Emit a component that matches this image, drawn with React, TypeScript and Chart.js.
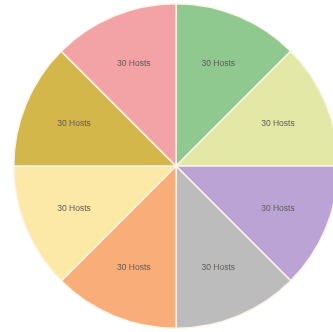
import React, { useEffect, useRef } from "react";
import { Chart, registerables } from "chart.js";

Chart.register(...registerables);

// Slices in clockwise order starting at 12 o'clock
const hostCounts = [30, 30, 30, 30, 30, 30, 30, 30];
const sliceNames = ["Group A", "Group B", "Group C", "Group D", "Group E", "Group F", "Group G", "Group H"];
const sliceColors = [
  "#8fc98f",
  "#e4e8a7",
  "#bba4d5",
  "#bdbcbd",
  "#f9ae79",
  "#fde9a7",
  "#d3b74b",
  "#f3a2a6",
];
const labelSuffix = " Hosts";

const sliceLabels = {
  id: "sliceLabels",
  afterDatasetsDraw(chart: any) {
    const { ctx } = chart;
    const meta = chart.getDatasetMeta(0);
    const values = chart.data.datasets[0].data as number[];
    ctx.save();
    ctx.font = "8.5px 'Liberation Sans', Arial, sans-serif";
    ctx.fillStyle = "#5f5a55";
    ctx.textAlign = "center";
    ctx.textBaseline = "middle";
    meta.data.forEach((arc: any, i: number) => {
      const { x, y, startAngle, endAngle, outerRadius } = arc.getProps(
        ["x", "y", "startAngle", "endAngle", "outerRadius"],
        true
      );
      const mid = (startAngle + endAngle) / 2;
      const r = outerRadius * 0.68;
      ctx.fillText(values[i] + labelSuffix, x + Math.cos(mid) * r, y + Math.sin(mid) * r);
    });
    ctx.restore();
  },
};

export default function App() {
  const canvasRef = useRef<HTMLCanvasElement>(null);

  useEffect(() => {
    if (!canvasRef.current) return;
    const chart = new Chart(canvasRef.current, {
      type: "pie",
      data: {
        labels: sliceNames,
        datasets: [
          {
            data: hostCounts,
            backgroundColor: sliceColors,
            borderColor: "#fbf4e8",
            borderWidth: 1.5,
          },
        ],
      },
      options: {
        responsive: false,
        animation: false,
        layout: { padding: { top: 3, bottom: 3, left: 0, right: 0 } },
        plugins: {
          legend: { display: false },
          tooltip: { enabled: false },
        },
      },
      plugins: [sliceLabels],
    });
    return () => chart.destroy();
  }, []);

  return (
    <div
      style={{
        position: "fixed",
        left: 0,
        top: 0,
        width: 333,
        height: 332,
        overflow: "hidden",
        background: "#ffffff",
      }}
    >
      <canvas ref={canvasRef} width={352} height={332} style={{ display: "block" }} />
    </div>
  );
}
